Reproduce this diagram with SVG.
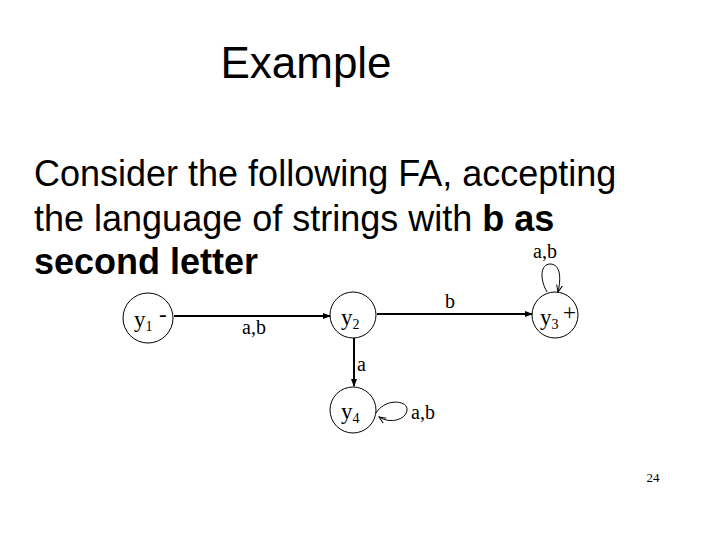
<svg xmlns="http://www.w3.org/2000/svg" width="720" height="540" viewBox="0 0 720 540">
<style>
.s{fill:none;stroke:#000;stroke-width:1}
.e{fill:none;stroke:#000;stroke-width:2}
.t{font-family:"Liberation Serif",serif;font-size:20px}
.n{font-family:"Liberation Serif",serif;font-size:23px}
.sub{font-family:"Liberation Serif",serif;font-size:14px}
.h{font-family:"Liberation Sans",Arial,sans-serif;font-size:36px}
</style>
<defs>
<marker id="a" markerWidth="8" markerHeight="8" refX="7" refY="4" orient="auto" markerUnits="userSpaceOnUse"><path d="M0,1L8,4L0,7z"/></marker>
<marker id="o" markerWidth="8" markerHeight="8" refX="7" refY="4" orient="auto" markerUnits="userSpaceOnUse"><path d="M0,1L7,4L0,7" fill="none" stroke="#000"/></marker>
</defs>
<rect width="720" height="540" fill="#fff"/>
<text x="306" y="78" text-anchor="middle" font-family="Liberation Sans,Arial,sans-serif" font-size="44">Example</text>
<text class="h" x="34" y="186">Consider the following FA, accepting</text>
<text class="h" x="34" y="231">the language of strings with <tspan font-weight="bold">b as</tspan></text>
<text class="h" x="34" y="274" font-weight="bold">second letter</text>
<g id="edges">
<line class="e" x1="174" y1="316" x2="330" y2="316" marker-end="url(#a)"/>
<text class="t" x="242" y="334">a,b</text>
<line class="e" x1="377" y1="314" x2="532" y2="314" marker-end="url(#a)"/>
<text class="t" x="445" y="308">b</text>
<line class="e" x1="354" y1="338" x2="354" y2="386" marker-end="url(#a)"/>
<text class="t" x="357" y="371">a</text>
<path class="s" d="M547,292 C539,278 541,264 550,264 C561,264 561,279 558,292" marker-end="url(#o)"/>
<text class="t" x="533" y="258" font-size="18">a,b</text>
<path class="s" d="M376,413 C385,398 408,400 407,410 C406,420 390,424 379,417" marker-end="url(#o)"/>
<text class="t" x="411" y="419">a,b</text>
</g>
<g id="y1"><circle class="s" cx="148" cy="318" r="25"/><text class="n" x="134" y="327">y<tspan class="sub" dy="4">1</tspan></text><text class="n" x="159" y="322">-</text></g>
<g id="y2"><circle class="s" cx="353" cy="315" r="23"/><text class="n" x="341" y="325">y<tspan class="sub" dy="4">2</tspan></text></g>
<g id="y3"><circle class="s" cx="555" cy="315" r="23"/><text class="n" x="540" y="325">y<tspan class="sub" dy="4">3</tspan></text><text class="n" x="563" y="320">+</text></g>
<g id="y4"><circle class="s" cx="353" cy="410" r="23"/><text class="n" x="341" y="419">y<tspan class="sub" dy="4">4</tspan></text></g>
<text x="653" y="482" text-anchor="middle" font-family="Liberation Serif,serif" font-size="13">24</text>
</svg>
